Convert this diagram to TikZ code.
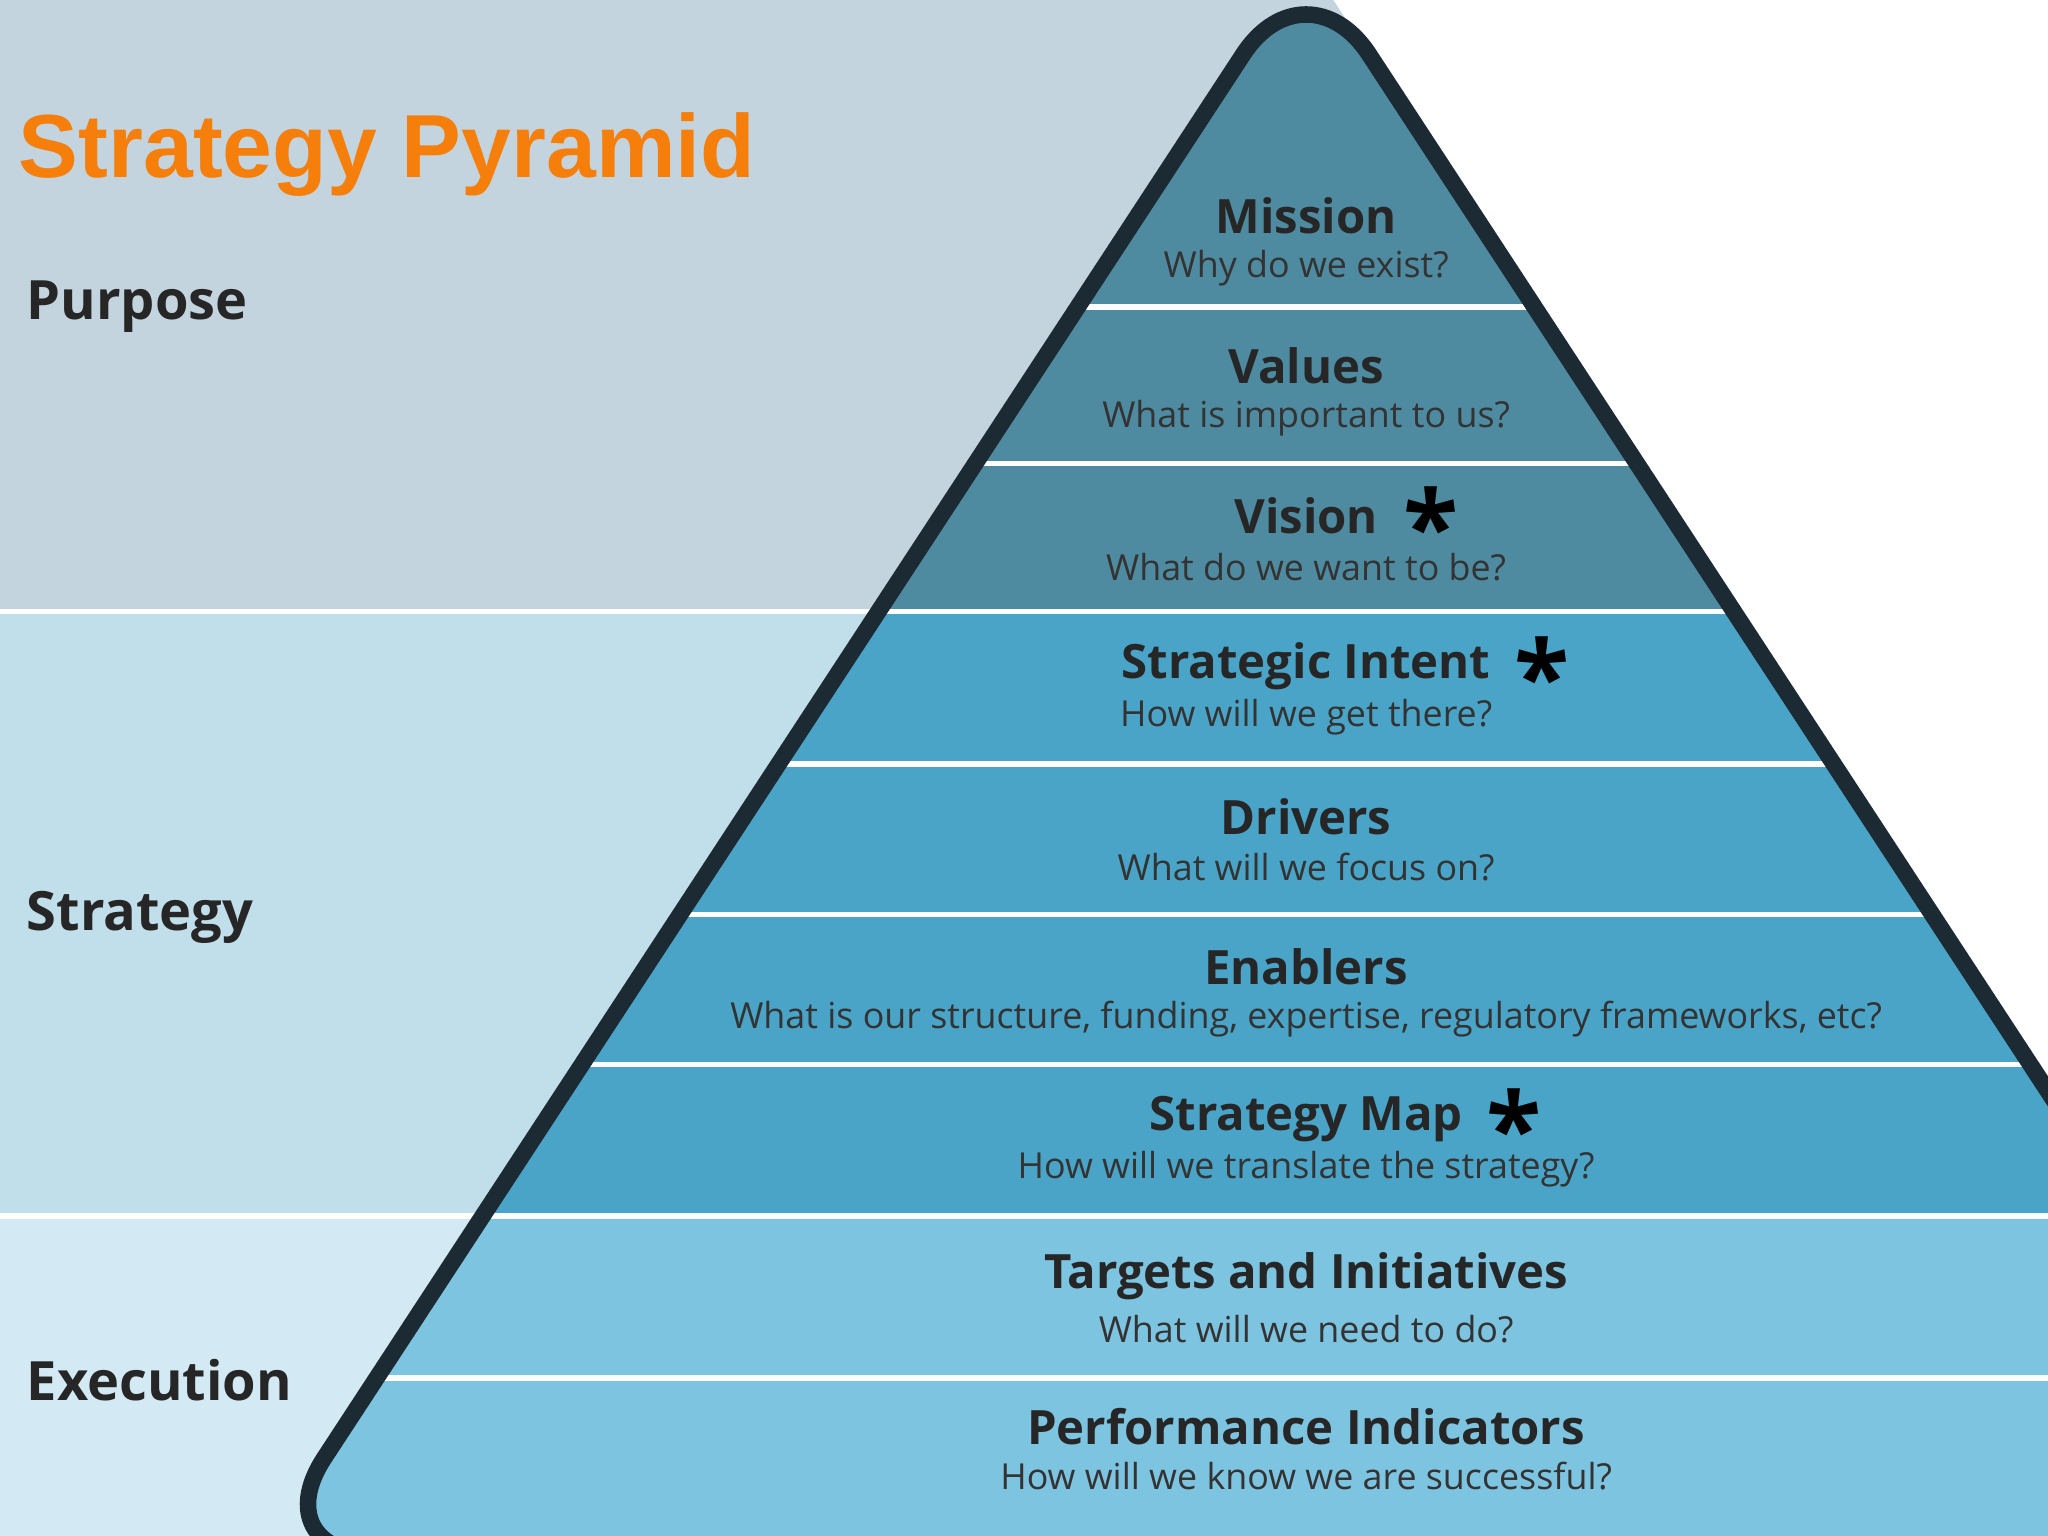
\documentclass[tikz,border=0pt]{standalone}
\usepackage{fontspec}
\setmainfont{Open Sans}
\newfontfamily\titlefont{Liberation Sans}
\begin{document}
\begin{tikzpicture}[x=0.01cm,y=-0.01cm,
  ttl/.style={font=\fontsize{10.3}{12}\selectfont\bfseries, text=black!85},
  sub/.style={font=\fontsize{7.8}{10}\selectfont, text=black!80},
  side/.style={font=\fontsize{11.8}{14}\selectfont\bfseries, text=black!85, anchor=west},
  star/.style={font=\fontsize{22}{22}\selectfont\bfseries},
  sep/.style={white, line width=1.2pt}]
\definecolor{bgP}{HTML}{C3D4DE}\definecolor{bgS}{HTML}{C1DFEA}\definecolor{bgE}{HTML}{D3EAF4}
\definecolor{pP}{HTML}{4E8BA1}\definecolor{pS}{HTML}{49A4C7}\definecolor{pE}{HTML}{7DC4E1}
\definecolor{edge}{HTML}{1B2A33}\definecolor{orng}{HTML}{F57F0A}
\useasboundingbox (0,0) rectangle (1568,1176);
\begin{scope}
\clip (0,0) rectangle (1568,1176);
\fill[bgP] (0,0) rectangle (1568,468);
\fill[bgS] (0,468) rectangle (1568,931);
\fill[bgE] (0,931) rectangle (1568,1176);
\draw[sep] (0,468) -- (1568,468);
\draw[sep] (0,931) -- (1568,931);
\fill[white] (1000,-32) -- (1800,-32) -- (1800,1190) -- cycle;
\begin{scope}
\clip[rounded corners=25] (1000,-32) -- (200,1190) -- (1800,1190) -- cycle;
\fill[pP] (0,-40) rectangle (1900,468);
\fill[pS] (0,468) rectangle (1900,931);
\fill[pE] (0,931) rectangle (1900,1200);
\foreach \yy in {235,355,468,585,700,815,931,1055} \draw[sep] (0,\yy) -- (1900,\yy);
\end{scope}
\draw[edge, line width=3.6pt, rounded corners=25] (1000,-32) -- (200,1190) -- (1800,1190) -- cycle;
\end{scope}
\node[anchor=west, text=orng, font=\titlefont\fontsize{19.5}{22}\selectfont\bfseries] (title) at (2,118) {Strategy Pyramid};
\node[side] (purpose) at (8,235) {Purpose};
\node[side] (strategy) at (8,702) {Strategy};
\node[side] (execution) at (8,1057) {Execution};
\node[ttl] (t1) at (1000,165) {Mission};
\node[sub] (s1) at (1000,205) {Why do we exist?};
\node[ttl] (t2) at (1000,280) {Values};
\node[sub] (s2) at (1000,320) {What is important to us?};
\node[ttl] (t3) at (1000,395) {Vision};
\node[sub] (s3) at (1000,434) {What do we want to be?};
\node[ttl] (t4) at (1000,510) {Strategic Intent};
\node[sub] (s4) at (1000,549) {How will we get there?};
\node[ttl] (t5) at (1000,625) {Drivers};
\node[sub] (s5) at (1000,664) {What will we focus on?};
\node[ttl] (t6) at (1000,740) {Enablers};
\node[sub] (s6) at (1000,780) {What is our structure, funding, expertise, regulatory frameworks, etc?};
\node[ttl] (t7) at (1000,857) {Strategy Map};
\node[sub] (s7) at (1000,895) {How will we translate the strategy?};
\node[ttl] (t8) at (1000,977) {Targets and Initiatives};
\node[sub] (s8) at (1000,1018) {What will we need to do?};
\node[ttl] (t9) at (1000,1092) {Performance Indicators};
\node[sub] (s9) at (1000,1130) {How will we know we are successful?};
\node[star] (a1) at (1096,402) {*};
\node[star] (a2) at (1181,517) {*};
\node[star] (a3) at (1159,863) {*};
\end{tikzpicture}
\end{document}
